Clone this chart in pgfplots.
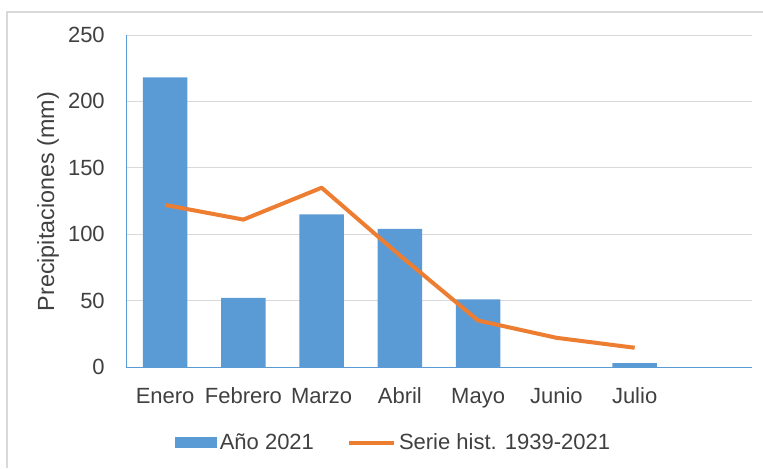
\documentclass[border=0pt]{standalone}
\usepackage{pgfplots}
\pgfplotsset{compat=1.18}
\usepackage{fontspec}
\setmainfont{Liberation Sans}
\definecolor{barblue}{HTML}{5B9BD5}
\definecolor{lineorange}{HTML}{ED7D31}
\definecolor{gridgray}{HTML}{D9D9D9}
\definecolor{txt}{HTML}{404040}
\begin{document}
\begin{tikzpicture}
\path[use as bounding box] (0pt,0pt) rectangle (572.25pt,351pt);
\draw[gridgray, line width=0.9pt] (5.25pt,0pt) -- (5.25pt,342pt) -- (572.25pt,342pt);
\begin{axis}[
  at={(94.5pt,75.75pt)}, anchor=south west,
  scale only axis,
  width=469.5pt, height=249pt,
  xmin=-0.5, xmax=7.5,
  ymin=0, ymax=250,
  ytick={0,50,100,150,200,250},
  xtick={0,1,2,3,4,5,6,7},
  xticklabels={Enero,Febrero,Marzo,Abril,Mayo,Junio,Julio,{}},
  major tick length=0pt,
  axis x line*=bottom,
  axis y line*=left,
  axis line style={draw=barblue, line width=0.75pt, -},
  ymajorgrids,
  grid style={gridgray, line width=0.75pt},
  /pgf/number format/assume math mode=true,
  tick label style={font=\fontsize{16.5}{19.8}\selectfont, text=txt, inner sep=0pt},
  yticklabel style={anchor=east, xshift=-15.75pt},
  xticklabel style={anchor=north, yshift=-15pt, text height=11.8pt, text depth=3.5pt},
  ylabel={Precipitaciones (mm)},
  ylabel style={at={(axis description cs:-0.1246,0.498)}, anchor=center, font=\fontsize{17.5}{21}\selectfont, text=txt, inner sep=0pt},
  legend columns=2,
  legend style={at={(axis description cs:0.4257,-0.228)}, anchor=center, draw=none, fill=none,
    font=\fontsize{16.5}{19.8}\selectfont, text=txt,
    nodes={inner sep=0pt},
    /tikz/every odd column/.append style={column sep=2.25pt},
    /tikz/every even column/.append style={column sep=24.75pt}},
]
\addplot[ybar, bar width=0.571, fill=barblue, draw=none,
  legend image code/.code={\fill[barblue] (0pt,-4.1pt) rectangle (31.5pt,4.1pt);}]
  coordinates {(0,218) (1,52) (2,115) (3,104) (4,51) (5,0) (6,3)};
\addlegendentry{Año 2021}
\addplot[lineorange, line width=3pt, mark=none, line join=round,
  legend image code/.code={\draw[lineorange, line width=3pt] (0pt,0pt) -- (33.75pt,0pt);}]
  coordinates {(0,122) (1,111) (2,135) (3,84) (4,35) (5,22) (6,14.5)};
\addlegendentry{Serie hist. 1939-2021}
\end{axis}
\end{tikzpicture}
\end{document}
